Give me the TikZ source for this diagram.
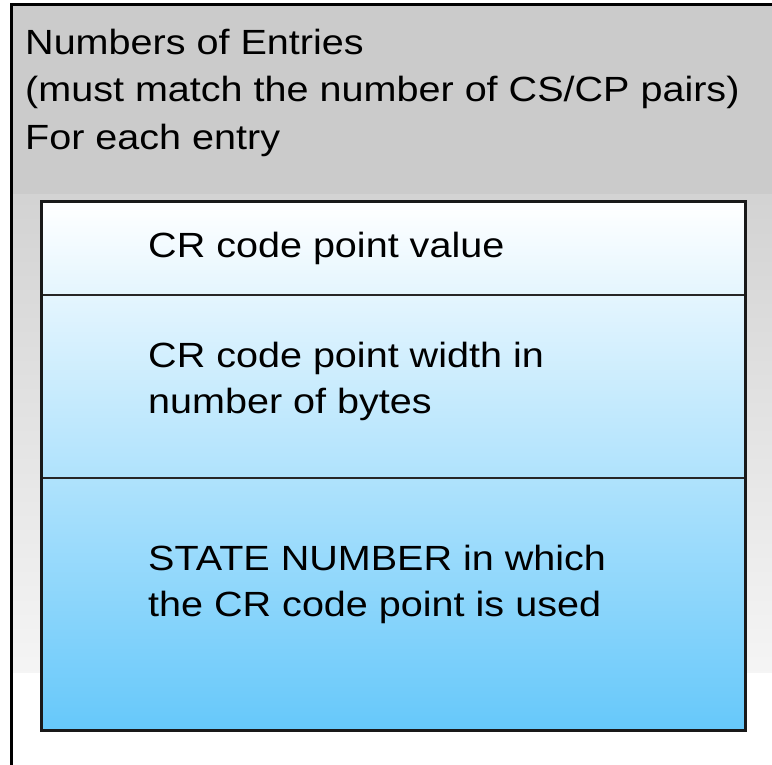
\documentclass[tikz,border=0pt]{standalone}
\usepackage{fontspec}
\setmainfont{Liberation Sans}[FakeStretch=1.13]
\begin{document}
\begin{tikzpicture}[x=1pt,y=-1pt,
  frame/.style={draw=black,line width=3pt},
  cell/.style={draw=black!85,line width=2pt},
  label/.style={anchor=base west,inner sep=0pt,font=\fontsize{35}{46}\selectfont,align=left},
  head/.style={anchor=base west,inner sep=0pt,font=\fontsize{35}{47}\selectfont}]
\definecolor{paleblue}{HTML}{66C8FA}
\definecolor{headgray}{HTML}{CBCBCB}
\useasboundingbox (0,0) rectangle (772,765);
\fill[white] (0,0) rectangle (772,765);
% outer record: grey header fading to white
\fill[headgray] (11,5) rectangle (790,195);
\shade[top color=headgray!85!white,bottom color=headgray!20!white] (11,195) rectangle (790,672);
\draw[frame] (11,800) -- (11,5) -- (790,5);
\node[head] (n1) at (25,55) {Numbers of Entries};
\node[head] (n2) at (25,102) {(must match the number of CS/CP pairs)};
\node[head] (n3) at (25,150) {For each entry};
% entry table
\shade[top color=white,bottom color=paleblue] (41,202) rectangle (745,730);
\draw[cell] (41,295) -- (745,295);
\draw[cell] (41,478) -- (745,478);
\draw[frame,black!90] (41,202) rectangle (745,730);
\node[label] (r1) at (148,258) {CR code point value};
\node[label] (r2) at (148,413) {CR code point width in\\number of bytes};
\node[label] (r3) at (148,616) {STATE NUMBER in which\\the CR code point is used};
\end{tikzpicture}
\end{document}
